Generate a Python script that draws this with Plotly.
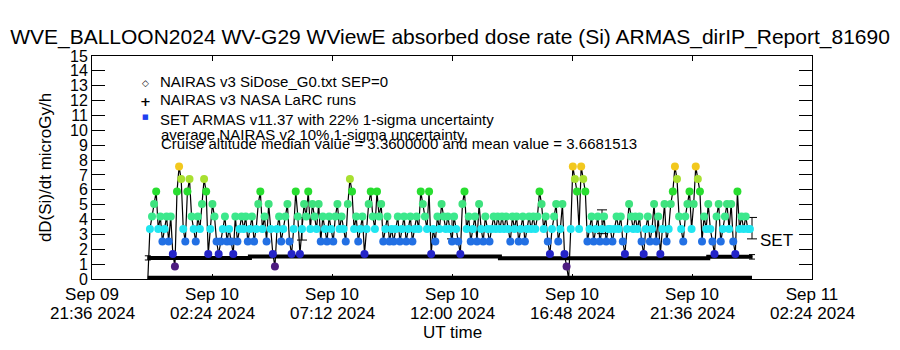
import plotly.graph_objects as go
import pandas as pd

# ---------------- data ----------------
title_text = "WVE_BALLOON2024 WV-G29 WViewE absorbed dose rate (Si) ARMAS_dirIP_Report_81690"
y_title = "dD(Si)/dt microGy/h"
x_title = "UT time"

tick_times = ["2024-09-09 21:36", "2024-09-10 02:24", "2024-09-10 07:12", "2024-09-10 12:00",
              "2024-09-10 16:48", "2024-09-10 21:36", "2024-09-11 02:24"]
tick_line1 = ["Sep 09", "Sep 10", "Sep 10", "Sep 10", "Sep 10", "Sep 10", "Sep 11"]
tick_line2 = ["21:36 2024", "02:24 2024", "07:12 2024", "12:00 2024", "16:48 2024", "21:36 2024", "02:24 2024"]
x_range = ["2024-09-09 21:36", "2024-09-11 02:24"]
y_range = [0, 15]

# ARMAS quantised dose-rate levels (microGy/h) and the colour used for each level
armas_levels = [0.0, 0.84, 1.68, 2.52, 3.36, 4.20, 5.04, 5.88, 6.72, 7.56]
level_colors = ["rgba(0,0,0,0)", "#4d1c80", "#2424c8", "#2270e4", "#20e6f0",
                "#3ce88c", "#3ee27e", "#28de30", "#a8e030", "#f2c81e"]

armas_start = "2024-09-09 23:50"
armas_step = "5min"
armas_level_idx = [
    0, 4, 5, 6, 7, 4, 5, 3, 4, 5,
    3, 5, 2, 1, 7, 9, 8, 4, 3, 7,
    8, 5, 4, 3, 5, 4, 6, 8, 7, 2,
    4, 6, 5, 3, 2, 3, 4, 5, 3, 4,
    3, 2, 5, 3, 4, 5, 4, 5, 3, 4,
    5, 3, 4, 6, 7, 4, 5, 3, 6, 4,
    2, 1, 4, 5, 3, 4, 5, 6, 3, 2,
    4, 7, 5, 2, 4, 6, 5, 7, 4, 6,
    5, 4, 6, 3, 5, 4, 3, 5, 4, 3,
    5, 6, 4, 5, 4, 3, 6, 8, 7, 4,
    5, 3, 4, 5, 2, 4, 6, 7, 5, 4,
    7, 5, 6, 3, 4, 5, 3, 4, 3, 4,
    5, 3, 4, 5, 3, 4, 5, 3, 4, 5,
    4, 7, 6, 5, 4, 7, 2, 4, 3, 5,
    4, 6, 5, 4, 5, 4, 3, 5, 4, 3,
    2, 6, 7, 4, 5, 3, 4, 5, 3, 6,
    4, 3, 5, 4, 3, 4, 5, 4, 5, 4,
    5, 4, 5, 4, 3, 5, 4, 5, 3, 4,
    5, 3, 4, 5, 4, 5, 4, 5, 7, 6,
    4, 5, 3, 2, 4, 5, 6, 3, 4, 6,
    2, 1, 0, 4, 9, 8, 7, 4, 9, 8,
    7, 3, 4, 5, 3, 4, 5, 3, 4, 5,
    3, 4, 4, 3, 4, 5, 4, 5, 3, 2,
    4, 6, 5, 4, 5, 4, 5, 3, 2, 4,
    5, 3, 4, 6, 3, 5, 2, 4, 6, 3,
    4, 6, 7, 9, 8, 5, 4, 3, 5, 6,
    7, 4, 6, 9, 8, 7, 3, 5, 4, 6,
    4, 3, 2, 5, 6, 3, 4, 5, 6, 4,
    6, 3, 2, 7, 4, 5, 4, 5, 4, 4,
]

# ARMAS 22 % 1-sigma uncertainty bars
armas_err_times = ["2024-09-10 06:00", "2024-09-10 12:00", "2024-09-10 18:00", "2024-09-11 00:00"]
armas_err_center = [3.38, 3.42, 3.85, 3.42]
armas_err_sigma = [0.76, 0.72, 0.80, 0.72]

# NAIRAS v3 NASA LaRC runs (step values)
larc_times = ["2024-09-09 23:50", "2024-09-10 03:55", "2024-09-10 13:55", "2024-09-10 22:15", "2024-09-11 00:00"]
larc_values = [1.42, 1.51, 1.40, 1.49, 1.49]
larc_sigma = [0.14, 0.15, 0.14, 0.15, 0.15]

# NAIRAS v3 SiDose_G0.txt SEP=0
sep0_times = ["2024-09-09 23:50", "2024-09-11 00:00"]
sep0_values = [0.1, 0.1]

legend_lines = ["NAIRAS v3 SiDose_G0.txt SEP=0", "NAIRAS v3 NASA LaRC runs",
                "SET ARMAS v11.37 with 22% 1-sigma uncertainty"]
note_lines = ["average NAIRAS v2 10% 1-sigma uncertainty",
              "Cruise altitude median value = 3.3600000 and mean value = 3.6681513"]
set_label = "SET"
set_label_pos = ("2024-09-11 00:14", 2.62)

# ---------------- layout helpers ----------------
W, H = 900, 350
PL, PR, PT, PB = 92, 812, 56, 279   # plot area in pixels


def px_x(px):
    return (px - PL) / (PR - PL)


def px_y(py):
    return (PB - py) / (PB - PT)


FONT = "Liberation Sans, Arial, sans-serif"

armas_times = pd.date_range(armas_start, periods=len(armas_level_idx), freq=armas_step)
armas_values = [armas_levels[k] for k in armas_level_idx]
armas_colors = [level_colors[k] for k in armas_level_idx]

fig = go.Figure()

# SEP=0 series along the bottom
fig.add_trace(go.Scatter(x=sep0_times, y=sep0_values, mode="lines",
                         line=dict(color="black", width=3.5), hoverinfo="skip"))

# NAIRAS LaRC runs
fig.add_trace(go.Scatter(x=larc_times, y=larc_values, mode="lines",
                         line=dict(color="black", width=4, shape="hv"), hoverinfo="skip"))
fig.add_trace(go.Scatter(x=[larc_times[0], larc_times[-1]], y=[larc_values[0], larc_values[-1]],
                         mode="markers", marker=dict(size=1, color="black"),
                         error_y=dict(type="data", array=[larc_sigma[0], larc_sigma[-1]],
                                      color="black", thickness=1, width=3),
                         hoverinfo="skip"))

# ARMAS uncertainty bars
fig.add_trace(go.Scatter(x=armas_err_times, y=armas_err_center, mode="markers",
                         marker=dict(size=1, color="black"),
                         error_y=dict(type="data", array=armas_err_sigma, color="black",
                                      thickness=1, width=5),
                         hoverinfo="skip"))

# ARMAS connecting line
fig.add_trace(go.Scatter(x=armas_times, y=armas_values, mode="lines",
                         line=dict(color="black", width=1.2), hoverinfo="skip"))
# ARMAS coloured points
fig.add_trace(go.Scatter(x=armas_times, y=armas_values, mode="markers",
                         marker=dict(size=8, color=armas_colors, line=dict(width=0)),
                         hoverinfo="skip"))

annotations = []
# second line of x tick labels
for t, s in zip(tick_times, tick_line2):
    annotations.append(dict(x=t, xref="x", y=px_y(313), yref="paper", text=s,
                            showarrow=False, xanchor="center", yanchor="middle",
                            font=dict(family=FONT, size=17, color="black")))
# x title
annotations.append(dict(x=0.5, xref="paper", y=px_y(332), yref="paper", text=x_title,
                        showarrow=False, xanchor="center", yanchor="middle",
                        font=dict(family=FONT, size=17, color="black")))
# legend symbols
sym_y = [83, 101, 117]
sym_text = ["◇", "<b>+</b>", "■"]
sym_color = ["black", "black", "#1e40f0"]
sym_size = [9, 13, 7]
for yy, tx, col, sz in zip(sym_y, sym_text, sym_color, sym_size):
    annotations.append(dict(x=px_x(145), xref="paper", y=px_y(yy), yref="paper", text=tx,
                            showarrow=False, xanchor="center", yanchor="middle",
                            font=dict(family="DejaVu Sans", size=sz, color=col)))
# legend texts
for yy, tx in zip([81, 99, 119], legend_lines):
    annotations.append(dict(x=px_x(158), xref="paper", y=px_y(yy), yref="paper", text=tx,
                            showarrow=False, xanchor="left", yanchor="middle",
                            font=dict(family=FONT, size=15, color="black")))
for yy, tx in zip([134, 143], note_lines):
    annotations.append(dict(x=px_x(159), xref="paper", y=px_y(yy), yref="paper", text=tx,
                            showarrow=False, xanchor="left", yanchor="middle",
                            font=dict(family=FONT, size=15, color="black")))
# SET label
annotations.append(dict(x=set_label_pos[0], xref="x", y=set_label_pos[1], yref="y",
                        text=set_label, showarrow=False, xanchor="left", yanchor="middle",
                        font=dict(family=FONT, size=17, color="black")))

fig.update_layout(
    width=W, height=H,
    margin=dict(l=PL, r=W - PR, t=PT, b=H - PB, pad=0),
    paper_bgcolor="white", plot_bgcolor="white",
    showlegend=False,
    title=dict(text=title_text, x=0.5, xanchor="center", y=1 - 37 / H, yref="container",
               yanchor="middle", font=dict(family=FONT, size=21, color="black")),
    xaxis=dict(type="date", range=x_range, tickmode="array", tickvals=tick_times,
               ticktext=tick_line1, ticks="inside", ticklen=5, tickcolor="black",
               showline=True, linecolor="black", linewidth=1, mirror="ticks",
               showgrid=False, zeroline=False,
               tickfont=dict(family=FONT, size=17, color="black")),
    yaxis=dict(range=y_range, tickmode="linear", tick0=0, dtick=1, ticks="inside",
               ticklen=13, tickcolor="black", showline=True, linecolor="black",
               linewidth=1, mirror="ticks", showgrid=False, zeroline=False,
               tickfont=dict(family=FONT, size=16, color="black"),
               title=dict(text=y_title, font=dict(family=FONT, size=17, color="black"),
                          standoff=14)),
    annotations=annotations,
)

fig.write_html("out.html")
